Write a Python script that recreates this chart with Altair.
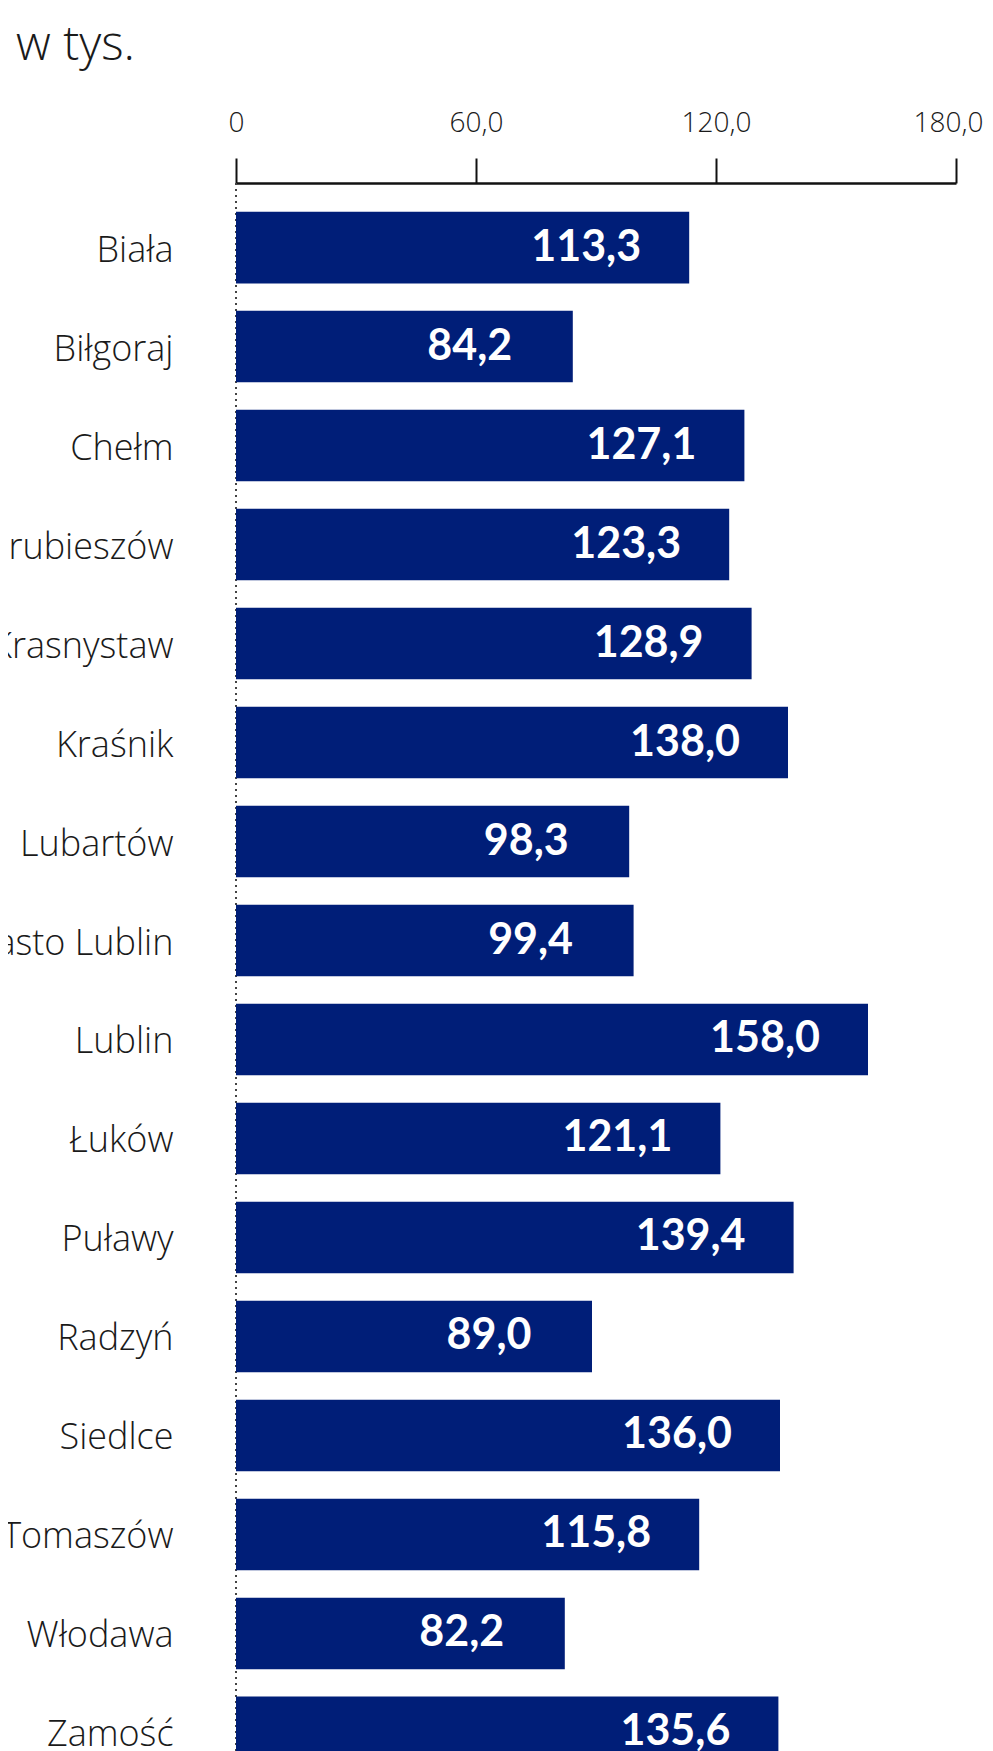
import altair as alt
import pandas as pd

categories = ["Biała", "Biłgoraj", "Chełm", "Hrubieszów", "Krasnystaw", "Kraśnik",
              "Lubartów", "Miasto Lublin", "Lublin", "Łuków", "Puławy", "Radzyń",
              "Siedlce", "Tomaszów", "Włodawa", "Zamość"]
values = [113.3, 84.2, 127.1, 123.3, 128.9, 138.0, 98.3, 99.4, 158.0, 121.1,
          139.4, 89.0, 136.0, 115.8, 82.2, 135.6]
value_labels = [f"{v:.1f}".replace(".", ",") for v in values]
tick_values = [0, 60, 120, 180]

df = pd.DataFrame({"cat": categories, "val": values, "label": value_labels})

LFONT = "Open Sans"
VFONT = "Lato"
NAVY = "#001e78"
INK = "#1a1a1a"

y_enc = alt.Y(
    "cat:N", sort=categories,
    scale=alt.Scale(paddingInner=0.276, paddingOuter=0.29, range=[0, 1614]),
    axis=alt.Axis(title=None, domain=False, ticks=False, labelPadding=63,
                  labelFontSize=36, labelFont=LFONT, labelFontWeight=300,
                  labelColor=INK, labelBaseline="alphabetic", labelOffset=14,
                  labelLimit=500),
)
x_enc = alt.X(
    "val:Q",
    scale=alt.Scale(domain=[0, 180], nice=False),
    axis=alt.Axis(orient="top", title=None, values=tick_values, grid=False,
                  domainColor="#111111", domainWidth=2.5, tickColor="#111111",
                  tickWidth=2, tickSize=25, labelPadding=27, labelFlush=False,
                  labelAlign={"condition": {"test": "datum.value == 180", "value": "right"},
                              "value": "center"},
                  labelOffset={"condition": {"test": "datum.value == 180", "value": 27},
                               "value": 0},
                  labelBaseline="alphabetic", labelFontSize=28, labelFont=LFONT,
                  labelFontWeight=300, labelColor=INK,
                  labelExpr="datum.value == 0 ? '0' : replace(format(datum.value, '.1f'), '.', ',')"),
)

base = alt.Chart(df)

rule = base.mark_rule(strokeDash=[2, 4], color="#444444", strokeWidth=1.5).encode(
    x=alt.datum(0)
)
bars = base.mark_bar(color=NAVY).encode(x=x_enc, y=y_enc)
text = base.mark_text(align="center", baseline="alphabetic", dx=-103, dy=13,
                      fontSize=43, fontWeight="bold", font=VFONT, color="white").encode(
    x="val:Q", y=alt.Y("cat:N", sort=categories), text="label:N"
)

chart = alt.layer(rule, bars, text).properties(
    width=720,
    height=1568,
    padding={"left": 228, "top": 175, "right": 29, "bottom": 0},
    autosize=alt.AutoSizeParams(type="none"),
    title=alt.TitleParams("w tys.", anchor="start", frame="group", dx=-220, dy=35,
                          fontSize=48, font=LFONT, fontWeight=300, color=INK,
                          baseline="alphabetic", offset=36),
).configure_view(stroke=None)

chart.save("out.html", embed_options={"renderer": "svg", "actions": False})
